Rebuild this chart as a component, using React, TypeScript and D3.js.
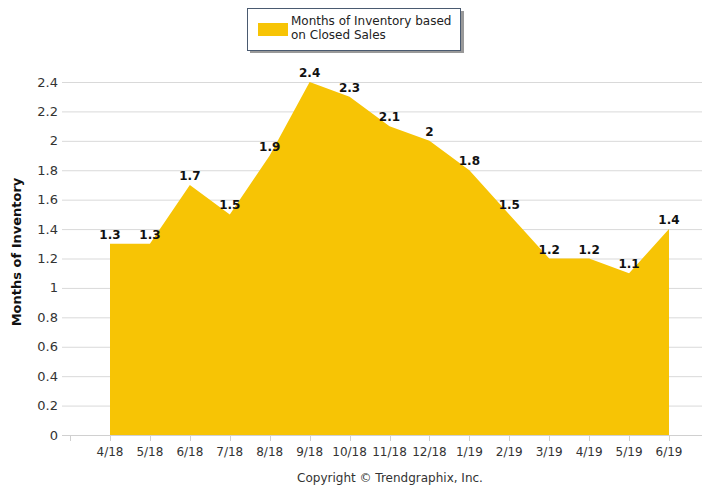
import * as d3 from "d3";
import { useEffect, useRef } from "react";

const months = ["4/18", "5/18", "6/18", "7/18", "8/18", "9/18", "10/18", "11/18", "12/18", "1/19", "2/19", "3/19", "4/19", "5/19", "6/19"];
const inventory = [1.3, 1.3, 1.7, 1.5, 1.9, 2.4, 2.3, 2.1, 2, 1.8, 1.5, 1.2, 1.2, 1.1, 1.4];
const yTicks = [0, 0.2, 0.4, 0.6, 0.8, 1, 1.2, 1.4, 1.6, 1.8, 2, 2.2, 2.4];

export default function App() {
  const ref = useRef<SVGSVGElement>(null);

  useEffect(() => {
    const width = 704;
    const height = 485;
    const fill = "#f7c405";
    const font = "'DejaVu Sans', Tahoma, sans-serif";

    const svg = d3.select(ref.current);
    svg.selectAll("*").remove();

    const x = d3.scalePoint<string>().domain(months).range([110, 669]);
    const y = d3.scaleLinear().domain([0, 2.4]).range([435, 82]);

    // grid lines
    svg.append("g")
      .selectAll("line")
      .data(yTicks)
      .join("line")
      .attr("x1", 62)
      .attr("x2", 702)
      .attr("y1", d => y(d) + 0.5)
      .attr("y2", d => y(d) + 0.5)
      .attr("stroke", "#d9d9d9");

    // area
    const area = d3.area<number>()
      .x((_, i) => x(months[i])!)
      .y0(y(0))
      .y1(d => y(d));
    svg.append("path").datum(inventory).attr("d", area).attr("fill", fill);

    // x axis line and ticks
    svg.append("line")
      .attr("x1", 62).attr("x2", 702)
      .attr("y1", y(0) + 0.5).attr("y2", y(0) + 0.5)
      .attr("stroke", "#d0d0d0");
    const step = x.step();
    const tickXs = [x(months[0])! - step, ...months.map(m => x(m)!)];
    svg.append("g")
      .selectAll("line")
      .data(tickXs)
      .join("line")
      .attr("x1", d => Math.round(d) + 0.5)
      .attr("x2", d => Math.round(d) + 0.5)
      .attr("y1", y(0))
      .attr("y2", y(0) + 6)
      .attr("stroke", "#d0d0d0");

    svg.append("g")
      .selectAll("text")
      .data(months)
      .join("text")
      .attr("x", d => x(d)!)
      .attr("y", 456)
      .attr("text-anchor", "middle")
      .attr("font-family", font)
      .attr("font-size", 12)
      .attr("fill", "#333")
      .text(d => d);

    // y axis labels
    svg.append("g")
      .selectAll("text")
      .data(yTicks)
      .join("text")
      .attr("x", 58)
      .attr("y", d => y(d) + 4.5)
      .attr("text-anchor", "end")
      .attr("font-family", font)
      .attr("font-size", 13)
      .attr("fill", "#333")
      .text(d => String(d));

    // data labels
    svg.append("g")
      .selectAll("text")
      .data(inventory)
      .join("text")
      .attr("x", (_, i) => x(months[i])!)
      .attr("y", d => y(d) - 5)
      .attr("text-anchor", "middle")
      .attr("font-family", font)
      .attr("font-size", 12)
      .attr("font-weight", "bold")
      .attr("fill", "#111")
      .text(d => String(d));

    // y axis title
    svg.append("text")
      .attr("transform", "translate(21,252) rotate(-90)")
      .attr("text-anchor", "middle")
      .attr("font-family", font)
      .attr("font-size", 13)
      .attr("font-weight", "bold")
      .attr("fill", "#111")
      .text("Months of Inventory");

    // copyright
    svg.append("text")
      .attr("x", 390)
      .attr("y", 482)
      .attr("text-anchor", "middle")
      .attr("font-family", font)
      .attr("font-size", 12)
      .attr("fill", "#333")
      .text("Copyright \u00A9 Trendgraphix, Inc.");

    // legend
    const lg = svg.append("g");
    lg.append("rect").attr("x", 250).attr("y", 11).attr("width", 214).attr("height", 42).attr("fill", "#999");
    lg.append("rect").attr("x", 247.5).attr("y", 8.5).attr("width", 213).attr("height", 42)
      .attr("fill", "#fff").attr("stroke", "#4a5a70");
    lg.append("rect").attr("x", 258).attr("y", 23).attr("width", 30).attr("height", 13).attr("fill", fill);
    const lt = lg.append("text")
      .attr("font-family", font)
      .attr("font-size", 12)
      .attr("fill", "#222");
    lt.append("tspan").attr("x", 291).attr("y", 25).text("Months of Inventory based");
    lt.append("tspan").attr("x", 291).attr("y", 39).text("on Closed Sales");

    svg.attr("width", width).attr("height", height);
  }, []);

  return (
    <svg ref={ref} width={704} height={485} style={{ position: "absolute", left: 0, top: 0 }} />
  );
}
